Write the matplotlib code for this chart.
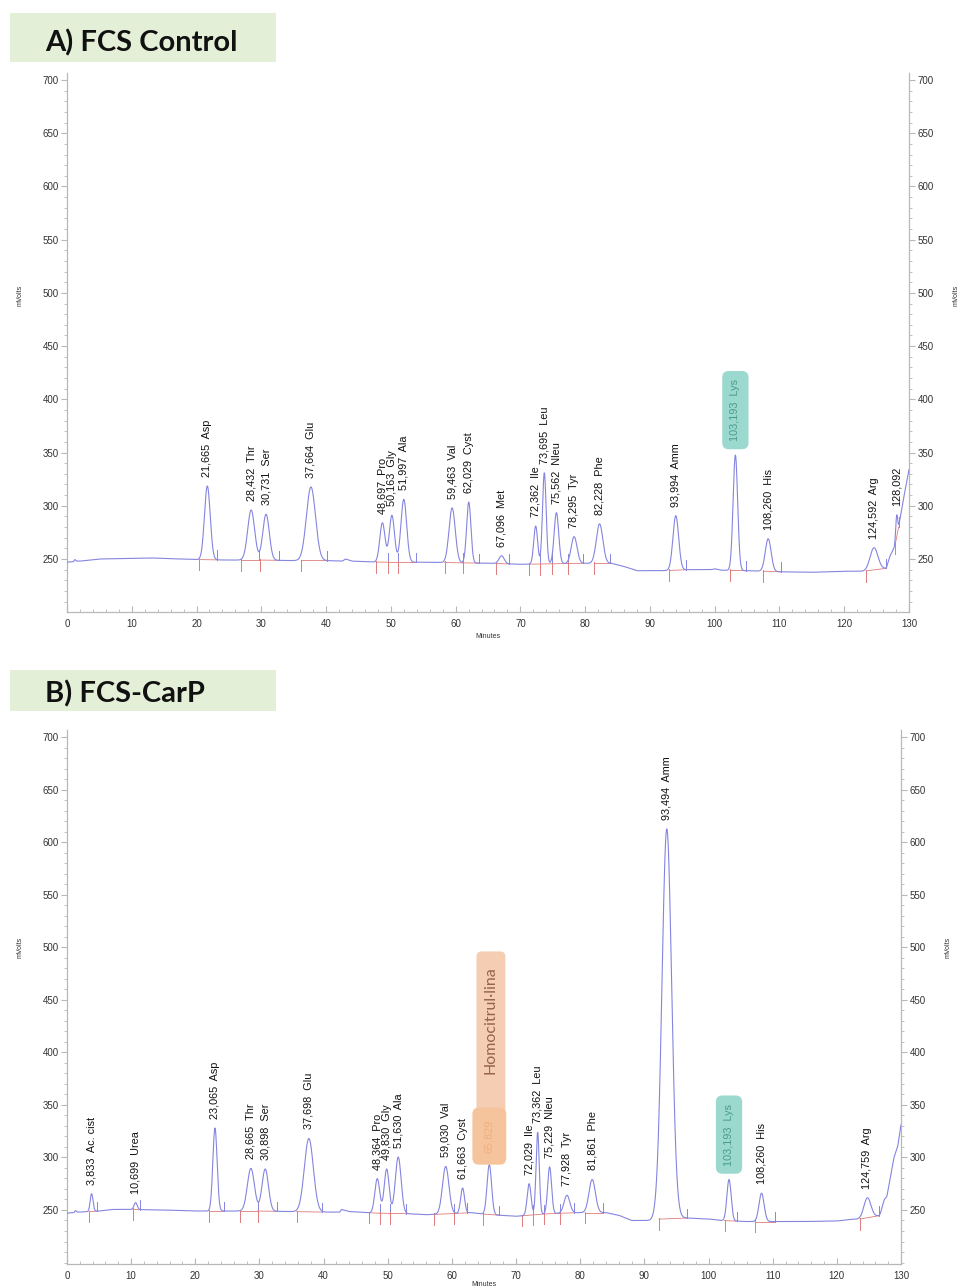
import numpy as np
import matplotlib
matplotlib.use("Agg")
import matplotlib.pyplot as plt
from matplotlib.patches import FancyBboxPatch, Rectangle
from matplotlib.ticker import MultipleLocator, FixedLocator

# ---------------- Panel A: FCS Control ----------------
a_times = [21.665, 28.432, 30.731, 37.664, 48.697, 50.163, 51.997, 59.463, 62.029,
           67.096, 72.362, 73.695, 75.562, 78.295, 82.228, 93.994, 103.193, 108.260,
           124.592, 128.092]
a_names = ["Asp", "Thr", "Ser", "Glu", "Pro", "Gly", "Ala", "Val", "Cyst", "Met",
           "Ile", "Leu", "Nleu", "Tyr", "Phe", "Amm", "Lys", "His", "Arg", ""]
a_tops = [318.6, 296, 292, 317.7, 284, 291, 306, 298, 303.5, 253,
          281, 331, 293.5, 271, 283, 290.7, 347.7, 269, 260.6, 291]
a_sigma = [0.44, 0.54, 0.5, 0.7, 0.4, 0.4, 0.44, 0.48, 0.33, 0.4,
           0.3, 0.28, 0.35, 0.45, 0.5, 0.44, 0.35, 0.45, 0.6, 0.15]
a_starts = [20.4, 26.8, 29.8, 36.2, 47.7, 49.5, 51.1, 58.3, 61.1, 66.3,
            71.4, 73.1, 74.9, 77.3, 81.3, 93.0, 102.4, 107.5, 123.4, 127.9]
a_ends = [23.2, 29.7, 32.8, 40.1, 49.5, 51.1, 53.9, 61.1, 63.6, 68.2,
          73.1, 74.9, 77.3, 79.6, 83.9, 95.5, 104.9, 110.2, 126.5, 128.4]
a_base_t = [0, 1.0, 1.2, 1.5, 2, 5, 10, 13, 15, 20, 25, 30, 35, 40, 42.5, 43, 44,
            48, 55, 60, 65, 70, 75, 80, 84, 86, 88, 92, 96, 99.5, 100, 101, 105,
            110, 115, 120, 123, 126.5, 127.0, 127.8, 128.4, 129.1, 130]
a_base_v = [247, 247.5, 249.5, 248, 248, 250, 250.5, 251, 250.5, 249.5, 249, 249,
            248.5, 248.5, 248, 250, 248, 247, 247, 246.5, 246, 245, 245.5, 246,
            246, 243, 239, 239, 240, 240, 240.8, 239.5, 239, 238, 237.5, 238.5,
            238.5, 241.3, 252, 261.6, 280, 305, 334]

# ---------------- Panel B: FCS-CarP ----------------
b_times = [3.833, 10.699, 23.065, 28.665, 30.898, 37.698, 48.364, 49.830, 51.630,
           59.030, 61.663, 65.829, 72.029, 73.362, 75.229, 77.928, 81.861, 93.494,
           103.193, 108.260, 124.759]
b_names = ["Ac. cist", "Urea", "Asp", "Thr", "Ser", "Glu", "Pro", "Gly", "Ala",
           "Val", "Cyst", "", "Ile", "Leu", "Nleu", "Tyr", "Phe", "Amm",
           "Lys", "His", "Arg"]
b_tops = [265.5, 257, 328, 289.6, 289, 318, 279.8, 289, 300.4,
          291.5, 270.9, 293.2, 275, 323.9, 291, 264, 279, 612.6,
          279, 266, 261.6]
b_sigma = [0.22, 0.25, 0.33, 0.55, 0.5, 0.7, 0.38, 0.38, 0.45,
           0.5, 0.3, 0.35, 0.3, 0.25, 0.3, 0.45, 0.5, 0.75,
           0.33, 0.4, 0.55]
b_starts = [3.45, 10.3, 22.1, 27.0, 29.7, 35.8, 47.1, 48.8, 50.4,
            57.2, 60.4, 64.9, 70.9, 72.7, 74.4, 76.8, 80.7, 92.3,
            102.5, 107.3, 123.6]
b_ends = [4.74, 11.4, 24.5, 29.7, 32.7, 39.8, 48.8, 50.4, 52.9,
          60.4, 62.4, 67.4, 72.7, 74.4, 76.8, 79.1, 83.6, 96.6,
          104.5, 110.4, 126.5]
b_base_t = [0, 1.1, 1.3, 1.6, 2, 5, 7, 10, 15, 20, 25, 30, 35, 40, 42.5, 42.8, 44,
            48, 53, 56, 60, 63, 65, 70, 75, 80, 84, 86, 88, 91, 93, 96, 100, 102,
            106, 110, 115, 120, 122, 124, 126.6, 126.8, 127.1, 127.4, 127.8,
            128.2, 128.6, 128.9, 129.5, 130]
b_base_v = [247, 247.5, 249.5, 248, 248, 249, 250.5, 250.5, 250, 249, 249, 249,
            248.5, 248, 248, 250.5, 248.5, 247, 246.5, 245.5, 246.5, 247.5, 246,
            244, 246.5, 247.5, 247.5, 245, 240, 240, 242, 242.5, 241.5, 240,
            239, 239, 239, 239.5, 241, 241.5, 244.6, 247, 254, 260, 263,
            275.8, 290, 299.7, 311, 331]

TRACE = "#8585e0"
BASE_RED = "#e07b7b"
SPINE = "#b8b8b8"
TICKTXT = "#333333"
LABEL_FONT = ["Liberation Sans", "DejaVu Sans"]

FIG_W, FIG_H = 959, 1288
fig = plt.figure(figsize=(FIG_W / 100, FIG_H / 100), dpi=100)


def px_axes(left, top, right, bottom):
    return fig.add_axes([left / FIG_W, 1 - bottom / FIG_H,
                         (right - left) / FIG_W, (bottom - top) / FIG_H])


def fmt_time(t):
    return f"{t:.3f}".replace(".", ",")


def draw_chromatogram(ax, times, names, tops, sigmas, starts, ends, bt, bv, ylim,
                      boxed=None):
    boxed = boxed or {}
    t = np.linspace(0, 130, 6000)
    base = np.interp(t, bt, bv)
    signal = base.copy()
    for tc, top, s in zip(times, tops, sigmas):
        amp = top - np.interp(tc, bt, bv)
        signal += amp * np.exp(-0.5 * ((t - tc) / s) ** 2)
    ax.plot(t, signal, color=TRACE, lw=0.8, zorder=3)

    # integration baselines with start (red) and end (blue) markers
    for st, en in zip(starts, ends):
        bs, be = np.interp(st, bt, bv), np.interp(en, bt, bv)
        ax.plot([st, en], [bs, be], color=BASE_RED, lw=0.6, zorder=2)
        ax.plot([st, st], [bs + 1, bs - 10], color=BASE_RED, lw=0.7, zorder=2)
        ax.plot([en, en], [be, be + 9], color=TRACE, lw=0.7, zorder=2)

    # peak labels
    for i, (tc, name, top) in enumerate(zip(times, names, tops)):
        label = fmt_time(tc) + (f"  {name}" if name else "")
        kw = dict(rotation=90, ha="center", va="bottom", fontsize=7.8,
                  family=LABEL_FONT, color="#111111", zorder=6)
        off = 6.5
        if i in boxed:
            style = boxed[i]
            kw.update(color=style["color"],
                      bbox=dict(boxstyle=f"round,pad={style['pad']},rounding_size=0.6",
                                fc=style["fc"], ec="none"))
            off = style["off"]
        ax.annotate(label, xy=(tc, top), xytext=(0, off), textcoords="offset points",
                    **kw)

    ax.set_xlim(0, 130)
    ax.set_ylim(*ylim)
    for side in ("left", "right", "bottom"):
        ax.spines[side].set_color(SPINE)
        ax.spines[side].set_linewidth(0.9)
    ax.spines["top"].set_visible(False)
    ax.xaxis.set_major_locator(MultipleLocator(10))
    ax.xaxis.set_minor_locator(MultipleLocator(2))
    ax.yaxis.set_major_locator(FixedLocator(np.arange(250, 701, 50)))
    ax.yaxis.set_minor_locator(MultipleLocator(10))
    ax.tick_params(axis="y", which="both", left=True, right=True, labelleft=True,
                   labelright=True, direction="out", color=SPINE, labelcolor=TICKTXT,
                   labelsize=7, pad=2)
    ax.tick_params(axis="y", which="major", length=4, width=0.8)
    ax.tick_params(axis="y", which="minor", length=2.5, width=0.6)
    ax.tick_params(axis="x", which="both", direction="in", color=SPINE,
                   labelcolor=TICKTXT, labelsize=7, pad=5)
    ax.tick_params(axis="x", which="major", length=4, width=0.8)
    ax.tick_params(axis="x", which="minor", length=2.5, width=0.6)
    for lab in ax.get_xticklabels() + ax.get_yticklabels():
        lab.set_family(LABEL_FONT)


lys_style = dict(fc="#9bd8ce", color="#4b9a90", pad=0.75, off=10)

# ---- Panel A ----
axA = px_axes(67, 73, 909, 612)
draw_chromatogram(axA, a_times, a_names, a_tops, a_sigma, a_starts, a_ends,
                  a_base_t, a_base_v, (200.2, 706.6),
                  boxed={a_names.index("Lys"): lys_style})

# ---- Panel B ----
axB = px_axes(67, 730, 901, 1264)
hc = 11
draw_chromatogram(axB, b_times, b_names, b_tops, b_sigma, b_starts, b_ends,
                  b_base_t, b_base_v, (198.6, 706.7),
                  boxed={b_names.index("Lys"): lys_style,
                         hc: dict(fc="#f6c49c", color="#efae82", pad=1.1, off=8.5)})

# Homocitrulline call-out behind the 65,829 label
tx = b_times[hc]
axB.add_patch(FancyBboxPatch((tx - 2.0, 321), 4.5, 175,
                             boxstyle="round,pad=0,rounding_size=0.8",
                             mutation_aspect=6.1, fc="#f4cdb2", ec="none",
                             zorder=5))
axB.text(tx + 0.25, 431, "Homocitrul·lina", rotation=90, ha="center", va="center",
         fontsize=11.5, family=["Lato", "DejaVu Sans"], color="#94634d", zorder=6)

# ---- axis titles ----
small = dict(fontsize=5, family=LABEL_FONT, color=TICKTXT)
for ytop, xr in ((295, 956), (947, 948)):
    fig.text(20 / FIG_W, 1 - ytop / FIG_H, "mVolts", rotation=90, ha="center",
             va="center", **small)
    fig.text(xr / FIG_W, 1 - ytop / FIG_H, "mVolts", rotation=90, ha="center",
             va="center", **small)
fig.text(488 / FIG_W, 1 - 636 / FIG_H, "Minutes", ha="center", va="center", **small)
fig.text(484 / FIG_W, 1 - 1285 / FIG_H, "Minutes", ha="center", va="center", **small)

# ---- panel headers ----
for (y0, y1, title) in ((13, 62, "A) FCS Control"), (670, 711, "B) FCS-CarP")):
    fig.patches.append(Rectangle((10 / FIG_W, 1 - y1 / FIG_H), 266 / FIG_W,
                                 (y1 - y0) / FIG_H, transform=fig.transFigure,
                                 fc="#e4efd7", ec="none", zorder=0))
    base_y = y0 + (y1 - y0) * 0.78
    fig.text(45 / FIG_W, 1 - base_y / FIG_H, title, ha="left", va="baseline",
             fontsize=21, fontweight="bold", family=["Lato", "DejaVu Sans"],
             color="#111111")

fig.savefig("out.png", dpi=100)
